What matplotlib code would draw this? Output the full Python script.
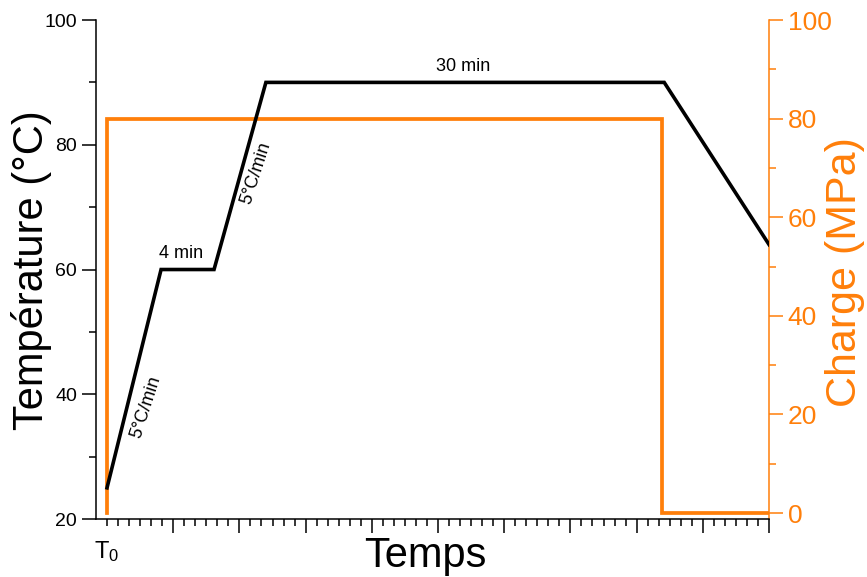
import matplotlib.pyplot as plt
from matplotlib.ticker import FixedLocator, MultipleLocator

plt.rcParams["font.family"] = ["Liberation Sans", "DejaVu Sans"]
plt.rcParams["mathtext.default"] = "regular"

ORANGE = "#FF7F0A"

# temperature profile (time in arbitrary units, T0 = 0)
temp_time = [0, 4.9, 9.7, 14.4, 50.5, 60]
temp_vals = [25, 60, 60, 90, 90, 64]

# applied load
load_time = [0, 0, 50.3, 50.3, 60]
load_vals = [0, 80, 80, 0, 0]

W, H = 867, 577
fig = plt.figure(figsize=(W / 100, H / 100), dpi=100)
ax = fig.add_axes([0.1107, 0.1005, 0.7763, 0.8648])
ax2 = ax.twinx()

ax.plot(temp_time, temp_vals, color="black", lw=2.6, solid_joinstyle="miter", zorder=3)
ax2.plot(load_time, load_vals, color=ORANGE, lw=2.7, solid_joinstyle="miter")

ax.set_xlim(-1, 60)
ax.set_ylim(20, 100)
ax2.set_ylim(-1.2, 100)

ax.set_zorder(ax2.get_zorder() + 1)
ax.patch.set_visible(False)

# x axis: only T0 labelled
ax.xaxis.set_major_locator(FixedLocator(list(range(6, 61, 6))))
ax.xaxis.set_minor_locator(FixedLocator(list(range(0, 61))))
ax.set_xticklabels([])
ax.tick_params(axis="x", which="major", length=10, width=1.1)
ax.tick_params(axis="x", which="minor", length=5, width=1.1)
ax.text(0, -0.04, r"$T_0$", transform=ax.get_xaxis_transform(),
        ha="center", va="top", fontsize=17)

ax.yaxis.set_major_locator(MultipleLocator(20))
ax.yaxis.set_minor_locator(MultipleLocator(10))
ax.tick_params(axis="y", which="major", length=10, width=1.1, labelsize=14)
ax.tick_params(axis="y", which="minor", length=5, width=1.1)

ax2.yaxis.set_major_locator(MultipleLocator(20))
ax2.yaxis.set_minor_locator(MultipleLocator(10))
ax2.tick_params(axis="y", which="major", length=10, width=1.1, labelsize=19,
                colors=ORANGE)
ax2.tick_params(axis="y", which="minor", length=5, width=1.1, colors=ORANGE)

for a in (ax, ax2):
    a.spines["top"].set_visible(False)
    for s in a.spines.values():
        s.set_linewidth(1.1)
ax.spines["right"].set_visible(False)
ax2.spines["left"].set_visible(False)
ax2.spines["bottom"].set_visible(False)
ax2.spines["right"].set_color(ORANGE)

# axis titles placed in figure pixels
fig.text(425 / W, 1 - 567 / H, "Temps", fontsize=30, ha="center", va="baseline")
fig.text(32 / W, 1 - 270 / H, "Température (°C)", fontsize=30, rotation=90,
         ha="center", va="center")
fig.text(845 / W, 1 - 272 / H, "Charge (MPa)", fontsize=31, rotation=90,
         ha="center", va="center", color=ORANGE)

# step annotations
ax.text(3.5, 38, "5°C/min", rotation=72, ha="center", va="center", fontsize=13)
ax.text(6.7, 62.6, "4 min", ha="center", va="center", fontsize=13)
ax.text(13.5, 75.5, "5°C/min", rotation=72, ha="center", va="center", fontsize=13)
ax.text(32.3, 92.5, "30 min", ha="center", va="center", fontsize=13)

fig.savefig("out.png", dpi=100)
